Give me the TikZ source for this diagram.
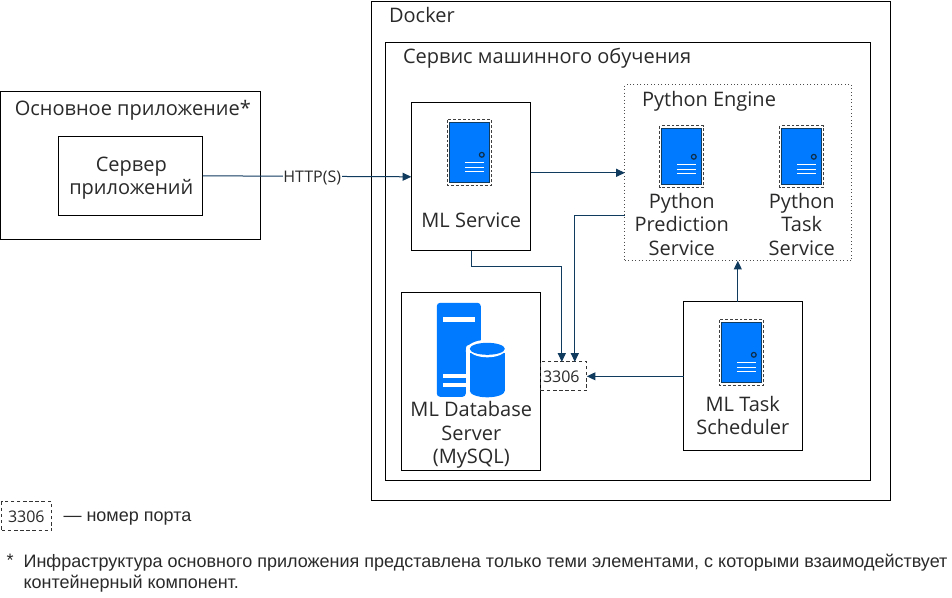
\documentclass[tikz,border=0pt]{standalone}
\usepackage{fontspec}
\setmainfont{Open Sans}
\newfontfamily\liberation{Liberation Sans}
\usetikzlibrary{arrows.meta}
\definecolor{linknavy}{HTML}{103A5E}
\definecolor{iconblue}{HTML}{007BFF}
\definecolor{txt}{HTML}{2A2A2A}
\tikzset{
  x=0.75pt,y=-0.75pt,
  box/.style={draw=black,line width=0.75pt,fill=white,inner sep=0,outer sep=0},
  dotbox/.style={draw=black!70,dotted,line width=0.6pt,fill=white,inner sep=0,outer sep=0},
  portbox/.style={draw=black!80,dash pattern=on 2.6pt off 2pt,line width=0.6pt,fill=white,inner sep=0,outer sep=0},
  lbl/.style={inner sep=0,text=txt,font=\fontsize{15pt}{17.4pt}\selectfont,align=center},
  smalllbl/.style={inner sep=0,text=txt,font=\fontsize{12pt}{14pt}\selectfont,align=center},
  note/.style={inner sep=0,text=txt,anchor=west,font=\liberation\fontsize{13.5pt}{15.6pt}\selectfont,align=left},
  link/.style={draw=linknavy,line width=0.75pt,-{Triangle[length=6.5pt,width=6pt]}},
}
% \srv{cx}{cy}{half height of blue body}
\newcommand{\srv}[3]{%
  \draw[draw=black!75,dash pattern=on 2.2pt off 1.5pt,line width=0.6pt,fill=white]
    ({#1-22},{#2-#3-3}) rectangle ({#1+22},{#2+#3+3});
  \draw[draw=linknavy,fill=iconblue,line width=0.75pt] ({#1-20},{#2-#3}) rectangle ({#1+20},{#2+#3});
  \draw[draw=linknavy!80!black,line width=0.9pt] ({#1+12},{#2+#3-28}) circle (2.4);
  \foreach \dy in {-20,-15.5,-11}
    \draw[white,line width=0.6pt] ({#1-5},{#2+#3+\dy}) -- ({#1+14},{#2+#3+\dy});
}
\begin{document}
\begin{tikzpicture}
\useasboundingbox (0.2,0.2) rectangle (952.2,597.2);
\fill[white] (0.2,0.2) rectangle (952.2,597.2);

% containers
\draw[box] (372,2) rectangle (891,501);
\node[lbl,anchor=west] (dockerlbl) at (389,15.5) {Docker};
\draw[box] (386,43) rectangle (871,481);
\node[lbl,anchor=west] (mllbl) at (403,58.5) {Сервис машинного обучения};
\draw[box] (1,92) rectangle (261,240);
\node[lbl] (mainlbl) at (133,110) {Основное приложение*};

% nodes
\node[box,minimum width=108pt,minimum height=59.25pt] (app) at (131,176.5) {};
\node[lbl] (applbl) at (131.5,178.5) {Сервер\\приложений};
\node[box,minimum width=89.6pt,minimum height=111pt] (ml) at (471.2,177) {};
\node[dotbox,minimum width=170.25pt,minimum height=132pt] (engine) at (738.5,173) {};
\node[box,minimum width=104.25pt,minimum height=133.5pt] (db) at (471.5,382) {};
\node[box,minimum width=89.25pt,minimum height=111.75pt] (sched) at (743.5,376.5) {};
\node[portbox,minimum width=34.5pt,minimum height=21.75pt] (port) at (564,376.5) {};
\node[smalllbl] (portlbl) at (561.5,377) {3306};

\node[lbl] at (471.5,220.5) {ML Service};
\srv{470}{153}{30}
\node[lbl,anchor=west] at (642,101.5) {Python Engine};
\srv{682}{157}{28}
\srv{802}{157}{28}
\node[lbl] at (682,224.5) {Python\\Prediction\\Service};
\node[lbl] at (802,224.5) {Python\\Task\\Service};
\srv{742}{353}{30}
\node[lbl] at (743,415.5) {ML Task\\Scheduler};

% database icon
\fill[iconblue,rounded corners=2.5pt] (437,397) -- (437,303) -- (481,303) -- (481,345) -- (466,345) -- (466,397) -- cycle;
\fill[white] (443,317) rectangle (475,322);
\fill[white] (443,374) rectangle (467,378.5);
\fill[white] (443,383.5) rectangle (467,387.5);
\fill[white] (487.5,351) ellipse[x radius=21.5,y radius=11];
\fill[white] (466,351) rectangle (470,397);
\fill[iconblue] (470,353) rectangle (505,391);
\fill[iconblue] (487.5,391) ellipse[x radius=17.5,y radius=6.5];
\fill[white] (487.5,349) ellipse[x radius=18.5,y radius=8.5];
\fill[iconblue] (487.5,349) ellipse[x radius=17.5,y radius=6];
\node[lbl] at (471.5,435) {ML Database\\Server\\(MySQL)};

% connectors
\draw[link] (app.east |- 0,176) -- (ml.west |- 0,177) node[pos=0.525,fill=white,inner sep=0.5pt,yshift=-1pt,text=txt,font=\fontsize{12pt}{14pt}\selectfont] {HTTP(S)};
\draw[link] (ml.east |- 0,173) -- (engine.west |- 0,173);
\draw[link] (engine.west |- 0,216) -- (575,216) -- (575,362);
\draw[link] (ml.south) -- (471.2,267) -- (562,267) -- (562,362);
\draw[link] (sched.west |- port.east) -- (port.east);
\draw[link] (sched.north -| 738,0) -- (738,261);

% legend
\node[portbox,minimum width=37.5pt,minimum height=21.75pt] (legend) at (27,516.5) {};
\node[smalllbl] (legendlbl) at (26.5,517) {3306};
\node[note] (legendtxt) at (63.5,519) {— номер порта};
\node[note,anchor=north west] (star) at (6.5,554.5) {*};
\node[note,anchor=north west] (foot) at (23.5,554.5) {Инфраструктура основного приложения представлена только теми элементами, с которыми взаимодействует\\контейнерный компонент.};
\end{tikzpicture}
\end{document}
